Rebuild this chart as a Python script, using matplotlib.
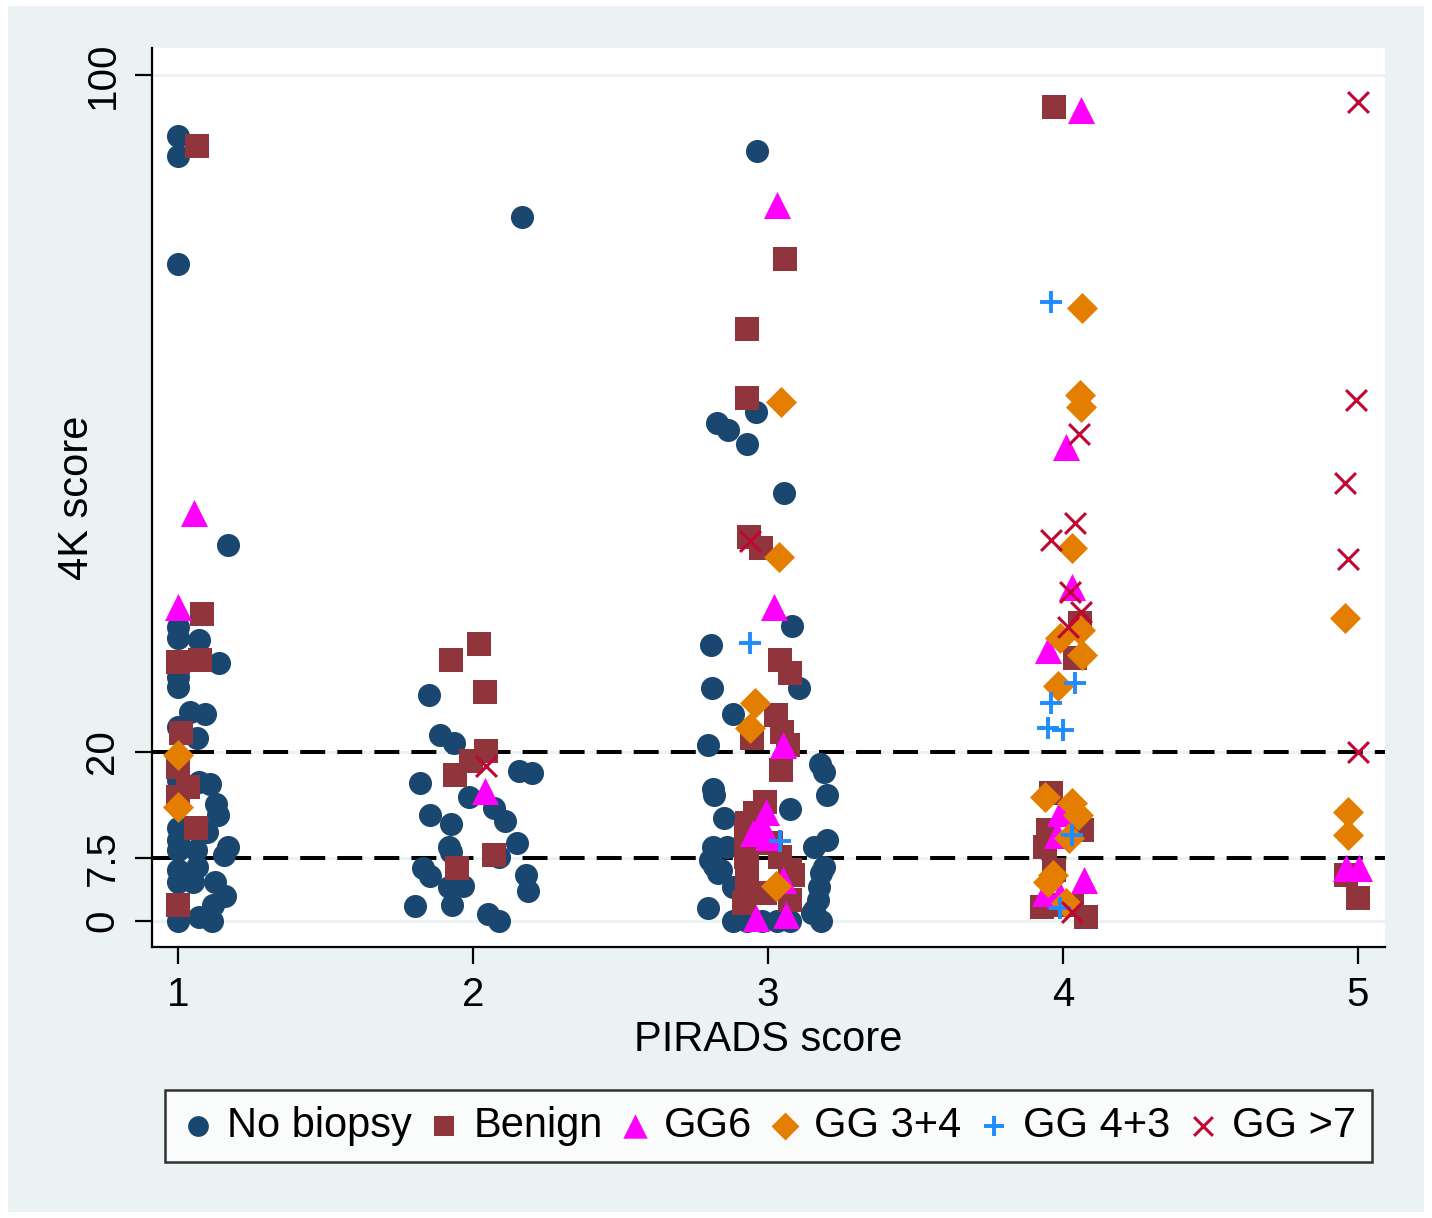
import matplotlib
matplotlib.use("Agg")
import matplotlib.pyplot as plt
from matplotlib.patches import Rectangle

plt.rcParams['font.family'] = ['Liberation Sans', 'DejaVu Sans']

# values (x = PIRADS score with jitter, y = 4K score)
nob_x = [1.0, 1.0, 1.0, 1.17, 1.0, 1.0, 1.07, 1.14, 1.0, 1.0, 1.04, 1.09, 1.0, 1.065,
         1.0, 1.07, 1.11, 1.13, 1.135, 1.0, 1.1, 1.0, 1.0, 1.06, 1.17, 1.155, 1.0, 1.065,
         1.0, 1.05, 1.125, 1.16, 1.12, 1.0, 1.07, 1.115,
         2.166, 1.85, 1.89, 1.935, 1.82, 2.155, 2.2, 1.985, 1.855, 1.925, 2.07, 2.11,
         1.92, 1.925, 2.15, 2.09, 1.83, 1.855, 2.18, 1.92, 1.965, 2.185, 1.805, 1.93,
         2.05, 2.09,
         2.963, 2.96, 2.827, 2.864, 2.93, 3.054, 3.08, 2.807, 3.105, 2.81, 2.88, 2.797,
         3.176, 3.19, 2.814, 2.817, 3.2, 3.075, 2.85, 2.814, 2.804, 2.817, 2.83, 2.86,
         2.88, 2.797, 2.88, 2.93, 2.98, 3.03, 3.075, 3.18, 3.155, 3.2, 3.19, 3.18, 3.174,
         3.17, 3.155, 3.15, 2.84]
nob_y = [92.8, 90.4, 77.7, 44.4, 34.8, 33.5, 33.2, 30.5, 28.8, 27.7, 24.7, 24.5, 22.9, 21.6,
         16.7, 16.4, 16.2, 13.8, 12.5, 11.0, 10.5, 9.6, 8.4, 8.4, 8.7, 7.8, 6.0, 6.4,
         4.6, 4.6, 4.6, 3.0, 1.9, 0.0, 0.5, 0.0,
         83.2, 26.7, 22.0, 21.0, 16.3, 17.7, 17.5, 14.7, 12.5, 11.5, 13.4, 11.8,
         8.7, 8.2, 9.2, 7.6, 6.3, 5.3, 5.4, 4.0, 4.1, 3.5, 1.8, 1.9,
         0.8, 0.0,
         91.0, 60.2, 58.9, 58.0, 56.4, 50.6, 34.9, 32.6, 27.5, 27.5, 24.5, 20.8,
         18.6, 17.6, 15.6, 14.9, 14.9, 13.2, 12.2, 8.7, 7.2, 6.5, 5.7, 8.7,
         4.0, 1.5, 0.0, 0.0, 0.0, 0.0, 0.0, 0.0, 8.7, 9.6, 6.4, 5.7, 4.0,
         2.5, 1.3, 0.9, 6.0]

ben_x = [1.065, 1.08, 1.0, 1.075, 1.01, 1.0, 1.035, 1.0, 1.06, 1.0,
         2.02, 1.925, 2.04, 2.045, 1.995, 1.94, 2.07, 1.945,
         3.058, 2.93, 2.93, 2.936, 2.976, 3.04, 3.075, 3.027, 2.946, 3.048, 3.068, 3.044,
         2.99, 2.956, 2.93, 2.925, 2.93, 2.925, 2.93, 3.01, 3.04, 3.075, 3.085, 2.93,
         2.92, 3.075, 2.99,
         3.97, 4.058, 4.04, 3.96, 3.95, 3.94, 4.065, 3.97, 3.93, 4.08, 3.98, 4.03,
         4.96, 5.0]
ben_y = [91.6, 36.3, 30.6, 30.9, 22.2, 18.2, 15.8, 14.7, 11.0, 1.9,
         32.7, 30.9, 27.1, 20.1, 18.9, 17.3, 7.8, 6.3,
         78.3, 70.0, 61.8, 45.4, 44.1, 30.9, 29.3, 24.3, 21.6, 22.3, 20.8, 17.8,
         14.1, 12.8, 11.6, 10.4, 9.2, 7.6, 6.4, 9.2, 7.6, 6.0, 5.4, 4.0,
         2.1, 2.5, 3.3,
         96.2, 35.2, 31.1, 15.1, 10.8, 8.7, 10.8, 6.0, 1.7, 0.5, 1.9, 1.9,
         5.4, 2.7]

gg6_x = [1.055, 1.0, 2.04,
         3.03, 3.02, 3.05, 2.995, 2.95, 2.98, 3.0, 3.05, 2.96, 3.06,
         4.06, 4.01, 4.03, 3.95, 3.99, 3.98, 4.07, 3.94, 3.99,
         4.96, 5.005]
gg6_y = [48.2, 37.1, 15.4,
         84.6, 37.1, 20.8, 12.9, 10.4, 11.1, 9.9, 4.8, 0.4, 0.7,
         95.9, 56.0, 39.5, 32.0, 12.8, 10.2, 4.8, 3.3, 3.1,
         6.3, 6.3]

g34_x = [1.0, 1.0,
         3.045, 3.037, 2.956, 2.94, 3.027,
         4.065, 4.058, 4.06, 4.03, 3.99, 4.058, 4.065, 3.985, 3.94, 4.03, 4.05, 4.02,
         3.965, 3.95, 4.01,
         4.955, 4.965, 4.965]
g34_y = [19.6, 13.5,
         61.4, 43.0, 25.8, 22.8, 4.1,
         72.5, 62.2, 60.8, 44.1, 33.5, 34.4, 31.4, 27.8, 14.7, 13.9, 12.5, 9.8,
         5.4, 4.6, 2.1,
         35.8, 12.9, 10.2]

g43_x = [2.94, 3.04, 3.96, 4.04, 3.96, 3.95, 4.0, 4.03, 3.99]
g43_y = [32.9, 9.5, 73.2, 28.1, 25.8, 22.8, 22.6, 10.2, 1.5]

g7_x = [2.045, 2.94, 4.055, 4.04, 3.96, 4.025, 4.06, 4.017, 4.03,
        5.0, 4.995, 4.955, 4.965, 5.0]
g7_y = [18.3, 44.9, 57.6, 47.0, 45.0, 38.9, 36.5, 34.8, 1.1,
        96.8, 61.6, 51.8, 42.8, 20.0]

ref_lines = [7.5, 20]
yticks = [0, 7.5, 20, 100]
ytick_labels = ["0", "7.5", "20", "100"]
xticks = [1, 2, 3, 4, 5]

bg = "#EAF2F3"
fig = plt.figure(figsize=(14.32, 12.18), dpi=100)
fig.patch.set_facecolor("white")
fig.patches.append(Rectangle((8 / 1432, 6 / 1218), 1416 / 1432, 1206 / 1218,
                             transform=fig.transFigure, facecolor=bg, edgecolor="none", zorder=-10))

ax = fig.add_axes([152 / 1432, 1 - 947 / 1218, 1233 / 1432, 899 / 1218])
ax.set_facecolor("white")
for s in ["top", "right"]:
    ax.spines[s].set_visible(False)
for s in ["left", "bottom"]:
    ax.spines[s].set_linewidth(1.6)

ax.set_xlim(0.912, 5.092)
ax.set_ylim(-3.07, 103.2)
ax.set_axisbelow(True)
ax.grid(axis="y", color=bg, linewidth=2.2)

for v in ref_lines:
    ax.axhline(v, color="black", linewidth=2.9, dashes=(6.2, 3.0), zorder=1.5)

ax.scatter(nob_x, nob_y, s=16.6 ** 2, marker="o", color="#1A476F", linewidths=0, zorder=3, label="No biopsy")
ax.scatter(ben_x, ben_y, s=16.6 ** 2, marker="s", color="#90353B", linewidths=0, zorder=4, label="Benign")
ax.scatter(gg6_x, gg6_y, s=19.5 ** 2, marker="^", color="#FF00FF", linewidths=0, zorder=5, label="GG6")
ax.scatter(g34_x, g34_y, s=15.8 ** 2, marker="D", color="#E37E00", linewidths=0, zorder=6, label="GG 3+4")
ax.scatter(g43_x, g43_y, s=15.6 ** 2, marker="+", color="#1E8CFF", linewidths=2.8, zorder=7, label="GG 4+3")
ax.scatter(g7_x, g7_y, s=15.0 ** 2, marker="x", color="#C10534", linewidths=2.2, zorder=8, label="GG >7")

ax.set_yticks(yticks)
ax.set_yticklabels(ytick_labels, rotation=90, va="center")
ax.set_xticks(xticks)
ax.tick_params(axis="both", direction="out", length=12, width=1.6, labelsize=29)
ax.tick_params(axis="y", pad=10)
ax.tick_params(axis="x", pad=9)

ax.set_ylabel("4K score", fontsize=30)
ax.yaxis.set_label_coords(-0.045, 0.5)
ax.set_xlabel("PIRADS score", fontsize=30)
ax.xaxis.set_label_coords(0.5, -0.081)

leg = fig.legend(loc="center", bbox_to_anchor=(768.5 / 1432, 1 - 1126 / 1218), ncol=6,
                 fontsize=30, frameon=True, fancybox=False, edgecolor="black",
                 handlelength=0.8, handletextpad=0.3, columnspacing=0.38,
                 borderpad=0.38, markerscale=0.9)
leg.get_frame().set_linewidth(1.8)
leg.get_frame().set_facecolor("white")

fig.savefig("out.png", dpi=100, facecolor=fig.get_facecolor())
